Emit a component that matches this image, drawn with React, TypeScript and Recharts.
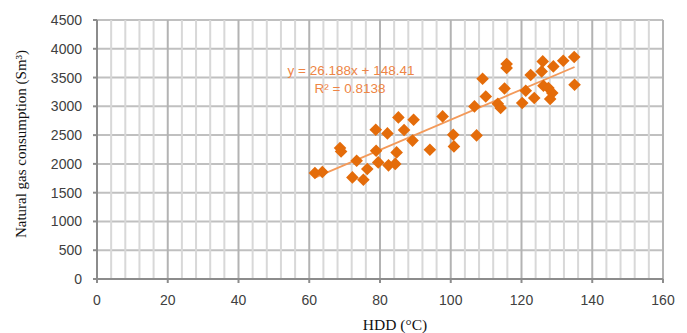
import React from "react";
import {
  ScatterChart,
  Scatter,
  XAxis,
  YAxis,
  CartesianGrid,
  ReferenceLine,
  Label,
} from "recharts";

const hdd = [
  61.6, 63.7, 68.7, 69.0, 72.2, 73.4, 75.3, 76.4, 78.8, 78.9, 79.5, 82.1, 82.4,
  84.3, 84.7, 85.2, 86.8, 89.2, 89.5, 94.1, 97.7, 100.7, 100.9, 106.7, 107.3,
  109.0, 109.9, 113.3, 114.1, 115.2, 115.8, 115.8, 120.2, 121.2, 122.6, 123.6,
  125.7, 126.0, 126.2, 127.6, 128.7, 128.1, 129.0, 131.8, 134.9, 135.0,
];
const gas = [
  1842, 1859, 2276, 2217, 1765, 2055, 1725, 1911, 2594, 2229, 2026, 2530, 1975,
  2000, 2200, 2808, 2590, 2405, 2768, 2246, 2825, 2507, 2304, 2999, 2495, 3480,
  3172, 3046, 2971, 3311, 3735, 3666, 3058, 3271, 3544, 3144, 3607, 3781, 3358,
  3318, 3231, 3127, 3694, 3793, 3857, 3376,
];

const slope = 26.188;
const intercept = 148.41;
const eqText = "y = 26.188x + 148.41";
const r2Text = "R² = 0.8138";

const xTicks = [0, 20, 40, 60, 80, 100, 120, 140, 160];
const yTicks = [0, 500, 1000, 1500, 2000, 2500, 3000, 3500, 4000, 4500];
const minorX = [
  4, 8, 12, 16, 24, 28, 32, 36, 44, 48, 52, 56, 64, 68, 72, 76, 84, 88, 92, 96,
  104, 108, 112, 116, 124, 128, 132, 136, 144, 148, 152, 156,
];

const points = hdd.map((x, i) => ({ x, y: gas[i] }));
const xMin = Math.min(...hdd);
const xMax = Math.max(...hdd);

const Diamond = (props: any) => {
  const { cx, cy } = props;
  const r = 6.3;
  return (
    <polygon
      points={`${cx},${cy - r} ${cx + r},${cy} ${cx},${cy + r} ${cx - r},${cy}`}
      fill="#E46C0A"
    />
  );
};

const tickStyle = {
  fontFamily: "Liberation Sans, Arial, sans-serif",
  fontSize: 14,
  fill: "#404040",
};

export default function App() {
  return (
    <div style={{ position: "absolute", left: 0, top: 0, width: 687, height: 333, background: "#fff" }}>
      <ScatterChart
        width={687}
        height={333}
        margin={{ top: 20, right: 24, bottom: 24, left: 0 }}
      >
        <CartesianGrid
          stroke="#C0C0C0"
          strokeWidth={2}
          vertical={false}
        />
        {minorX.map((v) => (
          <ReferenceLine key={v} x={v} stroke="#D8D8D8" strokeWidth={2} />
        ))}
        {xTicks.slice(1).map((v) => (
          <ReferenceLine key={"M" + v} x={v} stroke="#B3B3B3" strokeWidth={2} />
        ))}
        <XAxis
          type="number"
          dataKey="x"
          domain={[0, 160]}
          ticks={xTicks}
          height={30}
          tickSize={4}
          tickMargin={12}
          tick={tickStyle}
          stroke="#8C8C8C"
          strokeWidth={2}
          interval={0}
        >
          <Label
            content={() => (
              <text
                x={395}
                y={330}
                textAnchor="middle"
                fontFamily="Liberation Serif, Times New Roman, serif"
                fontSize={15.5}
                fill="#111"
              >
                HDD (°C)
              </text>
            )}
          />
        </XAxis>
        <YAxis
          type="number"
          dataKey="y"
          domain={[0, 4500]}
          ticks={yTicks}
          width={97}
          tickSize={4}
          tickMargin={11}
          tick={tickStyle}
          stroke="#8C8C8C"
          strokeWidth={2}
          interval={0}
        >
          <Label
            content={() => (
              <text
                x={26}
                y={144}
                transform="rotate(-90 26 144)"
                textAnchor="middle"
                fontFamily="Liberation Serif, Times New Roman, serif"
                fontSize={15}
                fill="#111"
              >
                Natural gas consumption (Sm³)
              </text>
            )}
          />
        </YAxis>
        <ReferenceLine
          segment={[
            { x: xMin, y: slope * xMin + intercept },
            { x: xMax, y: slope * xMax + intercept },
          ]}
          stroke="#F39A5A"
          strokeWidth={1.8}
        />
        <Scatter
          data={points}
          shape={<Diamond />}
          isAnimationActive={false}
        />
      </ScatterChart>
      <div
        style={{
          position: "absolute",
          left: 351,
          top: 70,
          transform: "translate(-50%, -50%)",
          fontFamily: "Liberation Sans, Arial, sans-serif",
          fontSize: 13.5,
          color: "#EE8545",
          whiteSpace: "nowrap",
        }}
      >
        {eqText}
      </div>
      <div
        style={{
          position: "absolute",
          left: 350,
          top: 88,
          transform: "translate(-50%, -50%)",
          fontFamily: "Liberation Sans, Arial, sans-serif",
          fontSize: 13.5,
          color: "#EE8545",
          whiteSpace: "nowrap",
        }}
      >
        {r2Text}
      </div>
    </div>
  );
}
